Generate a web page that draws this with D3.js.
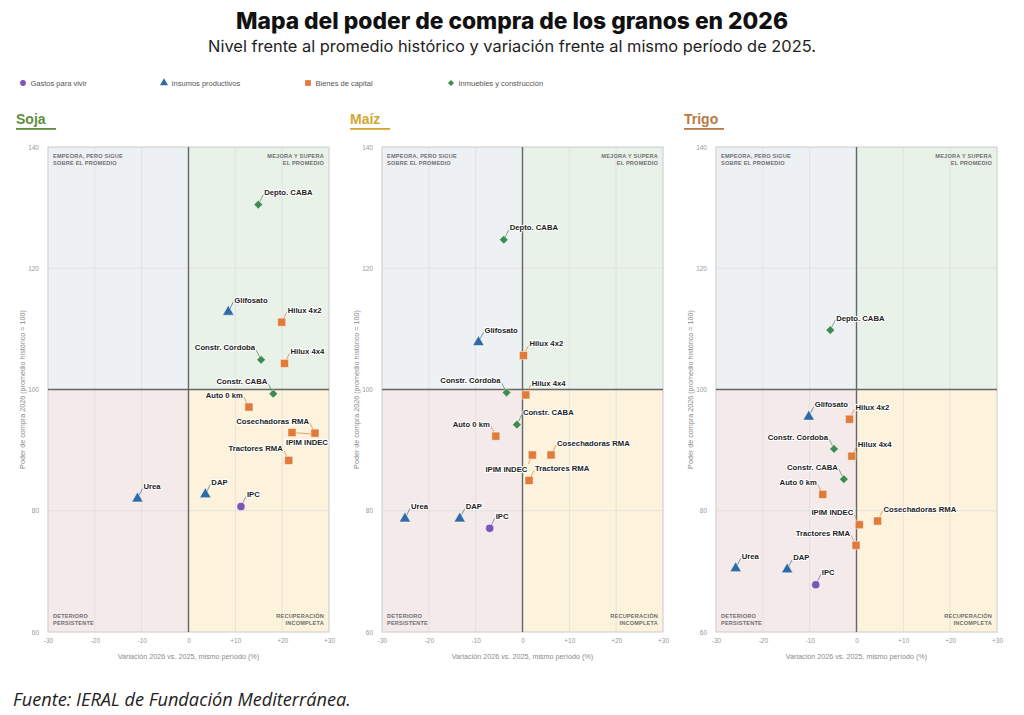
<!DOCTYPE html>
<html>
<head>
<meta charset="utf-8">
<script src="https://cdn.jsdelivr.net/npm/d3@7"></script>
<style>
  body { margin: 0; background: #fff; }
  svg { display: block; }
</style>
</head>
<body>
<svg id="chart" width="1024" height="715"></svg>
<script>
// ---- data ----
const groups = ["Gastos para vivir", "Insumos productivos", "Bienes de capital", "Inmuebles y construcción"];

const items = ["IPC", "Urea", "DAP", "Glifosato", "Hilux 4x2", "Hilux 4x4", "Auto 0 km",
  "Cosechadoras RMA", "Tractores RMA", "IPIM INDEC", "Depto. CABA", "Constr. Córdoba", "Constr. CABA"];
const itemGroup = [0, 1, 1, 1, 2, 2, 2, 2, 2, 2, 3, 3, 3];

const grains = ["Soja", "Maíz", "Trigo"];

// variación 2026 vs 2025 (%) y poder de compra (promedio histórico = 100)
const sojaVar   = [11.2, -10.9, 3.6, 8.5, 19.9, 20.5, 12.9, 27.0, 21.4, 22.1, 14.9, 15.5, 18.1];
const sojaNivel = [80.7, 82.0, 82.7, 112.8, 111.1, 104.3, 97.1, 92.8, 88.3, 92.9, 130.5, 104.9, 99.3];
const maizVar   = [-7.0, -25.1, -13.4, -9.4, 0.2, 0.7, -5.7, 6.1, 1.4, 2.1, -4.0, -3.4, -1.2];
const maizNivel = [77.1, 78.7, 78.7, 107.8, 105.6, 99.1, 92.3, 89.2, 85.0, 89.2, 124.7, 99.5, 94.2];
const trigoVar   = [-8.7, -25.8, -14.8, -10.2, -1.5, -1.0, -7.2, 4.5, -0.1, 0.6, -5.6, -4.8, -2.7];
const trigoNivel = [67.8, 70.5, 70.3, 95.5, 95.1, 89.0, 82.7, 78.3, 74.3, 77.7, 109.8, 90.2, 85.2];

const xTicks = [-30, -20, -10, 0, 10, 20, 30];
const yTicks = [60, 80, 100, 120, 140];

const quadrantNotes = [
  ["EMPEORA, PERO SIGUE", "SOBRE EL PROMEDIO"],
  ["MEJORA Y SUPERA", "EL PROMEDIO"],
  ["DETERIORO", "PERSISTENTE"],
  ["RECUPERACIÓN", "INCOMPLETA"]
];

// label side per item: R = arriba-derecha, L = arriba-izquierda, LD = abajo-izquierda, B = abajo
const sojaSide  = ["R", "R", "R", "R", "R", "R", "L", "L", "L", "B", "R", "L", "L"];
const maizSide  = ["R", "R", "R", "R", "R", "R", "L", "R", "R", "LD", "R", "L", "R"];
const trigoSide = ["R", "R", "R", "R", "R", "R", "L", "R", "L", "L", "R", "L", "L"];

const panels = [
  { name: grains[0], xs: sojaVar, ys: sojaNivel, side: sojaSide, color: "#5e8f3e" },
  { name: grains[1], xs: maizVar, ys: maizNivel, side: maizSide, color: "#d2a630" },
  { name: grains[2], xs: trigoVar, ys: trigoNivel, side: trigoSide, color: "#b97a45" }
];

// ---- styles ----
const groupColor = ["#7b55b8", "#2f6aa8", "#e07b39", "#3d8b4f"];
const groupSymbol = [d3.symbolCircle, d3.symbolTriangle, d3.symbolSquare, d3.symbolSquare];
const groupSize = [52, 56, 66, 38];
const groupRotate = [0, 0, 0, 45];
const quadFill = ["#eef1f4", "#e9f2e9", "#f5eaea", "#fdf3dc"];

const W = 1024, H = 715;
const plotW = 281, plotH = 485, plotTop = 147;
const plotLefts = [48, 382, 716];
const font = "'Liberation Sans', Arial, sans-serif";

const svg = d3.select("#chart");
svg.append("rect").attr("width", W).attr("height", H).attr("fill", "#fff");

// title
svg.append("text")
  .attr("x", W / 2).attr("y", 29)
  .attr("text-anchor", "middle")
  .attr("font-family", "Inter, 'Open Sans', sans-serif")
  .attr("font-weight", 800).attr("font-size", 22.8)
  .attr("fill", "#111")
  .text("Mapa del poder de compra de los granos en 2026");

svg.append("text")
  .attr("x", W / 2).attr("y", 52)
  .attr("text-anchor", "middle")
  .attr("font-family", "Inter, 'Open Sans', sans-serif")
  .attr("font-size", 16.4)
  .attr("fill", "#222")
  .text("Nivel frente al promedio histórico y variación frente al mismo período de 2025.");

// legend
const legendX = [23, 164, 308, 451];
const legend = svg.append("g").attr("transform", "translate(0,83)");
groups.forEach((g, i) => {
  const it = legend.append("g").attr("transform", `translate(${legendX[i]},0)`);
  it.append("path")
    .attr("d", d3.symbol(groupSymbol[i], groupSize[i] * 0.5)())
    .attr("transform", `rotate(${groupRotate[i]})`)
    .attr("fill", groupColor[i]);
  it.append("text")
    .attr("x", 7.5).attr("dy", "0.35em")
    .attr("font-family", font)
    .attr("font-size", 7.5).attr("fill", "#555")
    .text(g);
});

const x = d3.scaleLinear().domain([-30, 30]).range([0, plotW]);
const y = d3.scaleLinear().domain([60, 140]).range([plotH, 0]);

panels.forEach((p, pi) => {
  const left = plotLefts[pi];

  // panel title
  const head = svg.append("g").attr("transform", `translate(${left - 32},0)`);
  head.append("text")
    .attr("x", 0).attr("y", 124)
    .attr("font-family", font)
    .attr("font-weight", 700).attr("font-size", 14)
    .attr("fill", p.color)
    .text(p.name);
  head.append("rect")
    .attr("x", 0).attr("y", 128).attr("width", 40).attr("height", 1.8)
    .attr("fill", p.color);

  const g = svg.append("g").attr("transform", `translate(${left},${plotTop})`);

  // quadrants
  const quads = [
    [-30, 0, 140, 100], [0, 30, 140, 100],
    [-30, 0, 100, 60], [0, 30, 100, 60]
  ];
  g.selectAll("rect.quad").data(quads).join("rect")
    .attr("class", "quad")
    .attr("x", d => x(d[0])).attr("width", d => x(d[1]) - x(d[0]))
    .attr("y", d => y(d[2])).attr("height", d => y(d[3]) - y(d[2]))
    .attr("fill", (d, i) => quadFill[i]);

  // grid
  g.selectAll("line.gx").data(xTicks.slice(1, -1)).join("line")
    .attr("x1", d => x(d)).attr("x2", d => x(d))
    .attr("y1", 0).attr("y2", plotH)
    .attr("stroke", "#dcdcdc").attr("stroke-width", 0.7);
  g.selectAll("line.gy").data(yTicks.slice(1, -1)).join("line")
    .attr("y1", d => y(d)).attr("y2", d => y(d))
    .attr("x1", 0).attr("x2", plotW)
    .attr("stroke", "#dcdcdc").attr("stroke-width", 0.7);

  g.append("rect")
    .attr("width", plotW).attr("height", plotH)
    .attr("fill", "none").attr("stroke", "#d2d2d2").attr("stroke-width", 1.2);

  // reference lines
  g.append("line")
    .attr("x1", x(0)).attr("x2", x(0)).attr("y1", 0).attr("y2", plotH)
    .attr("stroke", "#666").attr("stroke-width", 1.4);
  g.append("line")
    .attr("x1", 0).attr("x2", plotW).attr("y1", y(100)).attr("y2", y(100))
    .attr("stroke", "#666").attr("stroke-width", 1.4);

  // quadrant notes
  const notePos = [
    { x: 5, y: 11, a: "start" }, { x: plotW - 5, y: 11, a: "end" },
    { x: 5, y: plotH - 14, a: "start" }, { x: plotW - 5, y: plotH - 14, a: "end" }
  ];
  quadrantNotes.forEach((lines, qi) => {
    const t = g.append("text")
      .attr("text-anchor", notePos[qi].a)
      .attr("font-family", font).attr("font-weight", 700)
      .attr("font-size", 5.6).attr("fill", "#707070")
      .attr("letter-spacing", 0.2);
    lines.forEach((l, li) => {
      t.append("tspan").attr("x", notePos[qi].x).attr("y", notePos[qi].y + li * 7.2).text(l);
    });
  });

  // axes
  const yAxis = g.append("g")
    .call(d3.axisLeft(y).tickValues(yTicks).tickSize(0).tickPadding(9));
  const xAxis = g.append("g").attr("transform", `translate(0,${plotH})`)
    .call(d3.axisBottom(x).tickValues(xTicks).tickSize(0).tickPadding(6)
      .tickFormat(d => d > 0 ? "+" + d : String(d)));
  [yAxis, xAxis].forEach(a => {
    a.select(".domain").remove();
    a.selectAll("text")
      .attr("font-family", font)
      .attr("font-size", 6.5).attr("fill", "#999");
  });

  g.append("text")
    .attr("x", plotW / 2).attr("y", plotH + 27)
    .attr("text-anchor", "middle")
    .attr("font-family", font)
    .attr("font-size", 7.2).attr("fill", "#8a8a8a")
    .text("Variación 2026 vs. 2025, mismo período (%)");

  g.append("text")
    .attr("transform", `translate(-23,${plotH / 2}) rotate(-90)`)
    .attr("text-anchor", "middle")
    .attr("font-family", font)
    .attr("font-size", 7.2).attr("fill", "#8a8a8a")
    .text("Poder de compra 2026 (promedio histórico = 100)");

  // points
  const pts = items.map((name, i) => ({
    name, grp: itemGroup[i], px: x(p.xs[i]), py: y(p.ys[i]), side: p.side[i]
  }));

  const place = {
    R:  { lx: 5, ly: -10, tx: 6, ty: -12, a: "start" },
    L:  { lx: -5, ly: -10, tx: -6, ty: -12, a: "end" },
    LD: { lx: -4, ly: 9, tx: -5, ty: 14, a: "end" },
    B:  { lx: 20, ly: 1.5, tx: 15, ty: 10, a: "middle" }
  };

  g.selectAll("line.lead").data(pts).join("line")
    .attr("class", "lead")
    .attr("x1", d => d.px).attr("y1", d => d.py)
    .attr("x2", d => d.px + place[d.side].lx).attr("y2", d => d.py + place[d.side].ly)
    .attr("stroke", d => groupColor[d.grp]).attr("stroke-width", 0.8).attr("opacity", 0.85);

  g.selectAll("path.pt").data(pts).join("path")
    .attr("class", "pt")
    .attr("d", d => d3.symbol(groupSymbol[d.grp], groupSize[d.grp])())
    .attr("transform", d => `translate(${d.px},${d.py}) rotate(${groupRotate[d.grp]})`)
    .attr("fill", d => groupColor[d.grp])
    .attr("stroke", "#fff").attr("stroke-width", 0.5);

  g.selectAll("text.lbl").data(pts).join("text")
    .attr("class", "lbl")
    .attr("x", d => d.px + place[d.side].tx)
    .attr("y", d => d.py + place[d.side].ty)
    .attr("dy", "0.35em")
    .attr("text-anchor", d => place[d.side].a)
    .attr("font-family", font)
    .attr("font-weight", 700).attr("font-size", 7.7)
    .attr("fill", "#222")
    .attr("stroke", "#fff").attr("stroke-width", 2).attr("stroke-linejoin", "round")
    .attr("paint-order", "stroke")
    .text(d => d.name);
});

// source
svg.append("text")
  .attr("x", 13).attr("y", 706)
  .attr("font-family", "'Open Sans', sans-serif")
  .attr("font-style", "italic").attr("font-size", 18.2)
  .attr("fill", "#222")
  .text("Fuente: IERAL de Fundación Mediterránea.");
</script>
</body>
</html>
